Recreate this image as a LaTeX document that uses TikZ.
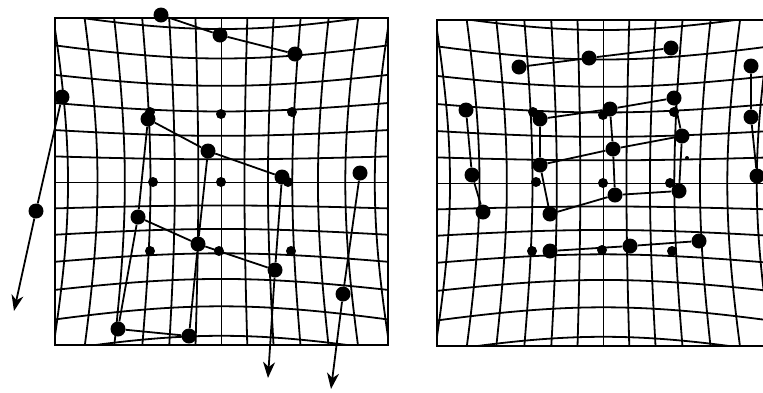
\documentclass[tikz,border=0pt]{standalone}
\usetikzlibrary{arrows.meta}
\begin{document}
\begin{tikzpicture}[x=1pt,y=-1pt,
  gridline/.style={line width=1.8pt},
  framebox/.style={line width=2pt},
  conn/.style={line width=1.8pt},
  arr/.style={conn,-{Stealth[length=16pt,width=12pt,inset=5pt]}},
  bigdot/.style={circle,fill=black,inner sep=0pt,minimum size=15pt},
  smalldot/.style={circle,fill=black,inner sep=0pt,minimum size=10pt},
  specdot/.style={circle,fill=black,inner sep=0pt,minimum size=4pt},
  declare function={gx(\a,\b)=23*\a*(1+0.0031*(\a*\a+\b*\b)); gy(\a,\b)=23*\b*(1+0.0031*(\a*\a+\b*\b));}
]
\useasboundingbox (0,0) rectangle (763,392);

% ---------- left panel grid ----------
\begin{scope}
\clip (55,18) rectangle (388,345);
\foreach \i in {-7,...,7}{
  \draw[gridline] plot[domain=-9:9,samples=49,variable=\t,smooth] ({221.4+gx(\i,\t)},{182.4+gy(\i,\t)});
  \draw[gridline] plot[domain=-9:9,samples=49,variable=\t,smooth] ({221.4+gx(\t,\i)},{182.4+gy(\t,\i)});
}
\end{scope}
\draw[framebox] (55,18) rectangle (388,345);

% ---------- right panel grid ----------
\begin{scope}
\clip (437,20) rectangle (770,346);
\foreach \i in {-7,...,7}{
  \draw[gridline] plot[domain=-9:9,samples=49,variable=\t,smooth] ({603.4+gx(\i,\t)},{183.4+gy(\i,\t)});
  \draw[gridline] plot[domain=-9:9,samples=49,variable=\t,smooth] ({603.4+gx(\t,\i)},{183.4+gy(\t,\i)});
}
\end{scope}
\draw[framebox] (437,20) rectangle (770,346);

% ---------- left panel dots ----------
\node[smalldot] (s11) at (150,112) {};
\node[smalldot] (s12) at (221,114) {};
\node[smalldot] (s13) at (292,112) {};
\node[smalldot] (s21) at (153,182) {};
\node[smalldot] (s22) at (221,182) {};
\node[smalldot] (s23) at (288,182) {};
\node[smalldot] (s31) at (150,251) {};
\node[smalldot] (s32) at (219,251) {};
\node[smalldot] (s33) at (291,251) {};

\node[bigdot] (LA) at (161,15) {};
\node[bigdot] (LB) at (220,35) {};
\node[bigdot] (LC) at (295,54) {};
\node[bigdot] (LD) at (62,97) {};
\node[bigdot] (LE) at (36,211) {};
\coordinate (LEt) at (14,311);
\node[bigdot] (P1) at (148,119) {};
\node[bigdot] (P2) at (208,151) {};
\node[bigdot] (P3) at (282,177) {};
\node[bigdot] (P4) at (138,217) {};
\node[bigdot] (P5) at (198,244) {};
\node[bigdot] (P6) at (275,270) {};
\coordinate (P6t) at (268,378);
\node[bigdot] (P7) at (118,329) {};
\node[bigdot] (P8) at (189,336) {};
\node[bigdot] (Q1) at (360,173) {};
\node[bigdot] (Q2) at (343,294) {};
\coordinate (Q2t) at (331,389);

\draw[conn] (LA) -- (LB) -- (LC);
\draw[conn] (LD) -- (LE);
\draw[arr] (LE) -- (LEt);
\draw[conn] (P1) -- (P2) -- (P3);
\draw[conn] (P4) -- (P5) -- (P6);
\draw[conn] (P7) -- (P8);
\draw[conn] (P1) -- (P4) -- (P7);
\draw[conn] (P2) -- (P5) -- (P8);
\draw[conn] (P3) -- (P6);
\draw[arr] (P6) -- (P6t);
\draw[conn] (Q1) -- (Q2);
\draw[arr] (Q2) -- (Q2t);

% ---------- right panel dots ----------
\node[smalldot] (r11) at (533,112) {};
\node[smalldot] (r12) at (603,115) {};
\node[smalldot] (r13) at (674,112) {};
\node[smalldot] (r21) at (536,182) {};
\node[smalldot] (r22) at (603,183) {};
\node[smalldot] (r23) at (670,183) {};
\node[smalldot] (r31) at (532,251) {};
\node[smalldot] (r32) at (602,250) {};
\node[smalldot] (r33) at (672,251) {};
\node[specdot] (mk) at (687,158) {};

\node[bigdot] (RA) at (519,67) {};
\node[bigdot] (RB) at (589,58) {};
\node[bigdot] (RC) at (671,48) {};
\node[bigdot] (RD) at (466,110) {};
\node[bigdot] (RE) at (472,175) {};
\node[bigdot] (RF) at (483,212) {};
\node[bigdot] (R1) at (540,119) {};
\node[bigdot] (R2) at (610,109) {};
\node[bigdot] (R3) at (674,98) {};
\node[bigdot] (R4) at (540,165) {};
\node[bigdot] (R5) at (613,149) {};
\node[bigdot] (R6) at (682,136) {};
\node[bigdot] (R7) at (550,214) {};
\node[bigdot] (R8) at (615,195) {};
\node[bigdot] (R9) at (679,191) {};
\node[bigdot] (R10) at (550,251) {};
\node[bigdot] (R11) at (630,246) {};
\node[bigdot] (R12) at (699,241) {};
\node[bigdot] (RG) at (751,66) {};
\node[bigdot] (RH) at (751,117) {};
\node[bigdot] (RI) at (757,176) {};

\draw[conn] (RA) -- (RB) -- (RC);
\draw[conn] (RD) -- (RE) -- (RF);
\draw[conn] (R1) -- (R2) -- (R3);
\draw[conn] (R4) -- (R5) -- (R6);
\draw[conn] (R7) -- (R8) -- (R9);
\draw[conn] (R10) -- (R11) -- (R12);
\draw[conn] (R1) -- (R4) -- (R7);
\draw[conn] (R2) -- (R5) -- (R8);
\draw[conn] (R3) -- (R6) -- (R9);
\draw[conn] (RG) -- (RH) -- (RI);
\end{tikzpicture}
\end{document}
